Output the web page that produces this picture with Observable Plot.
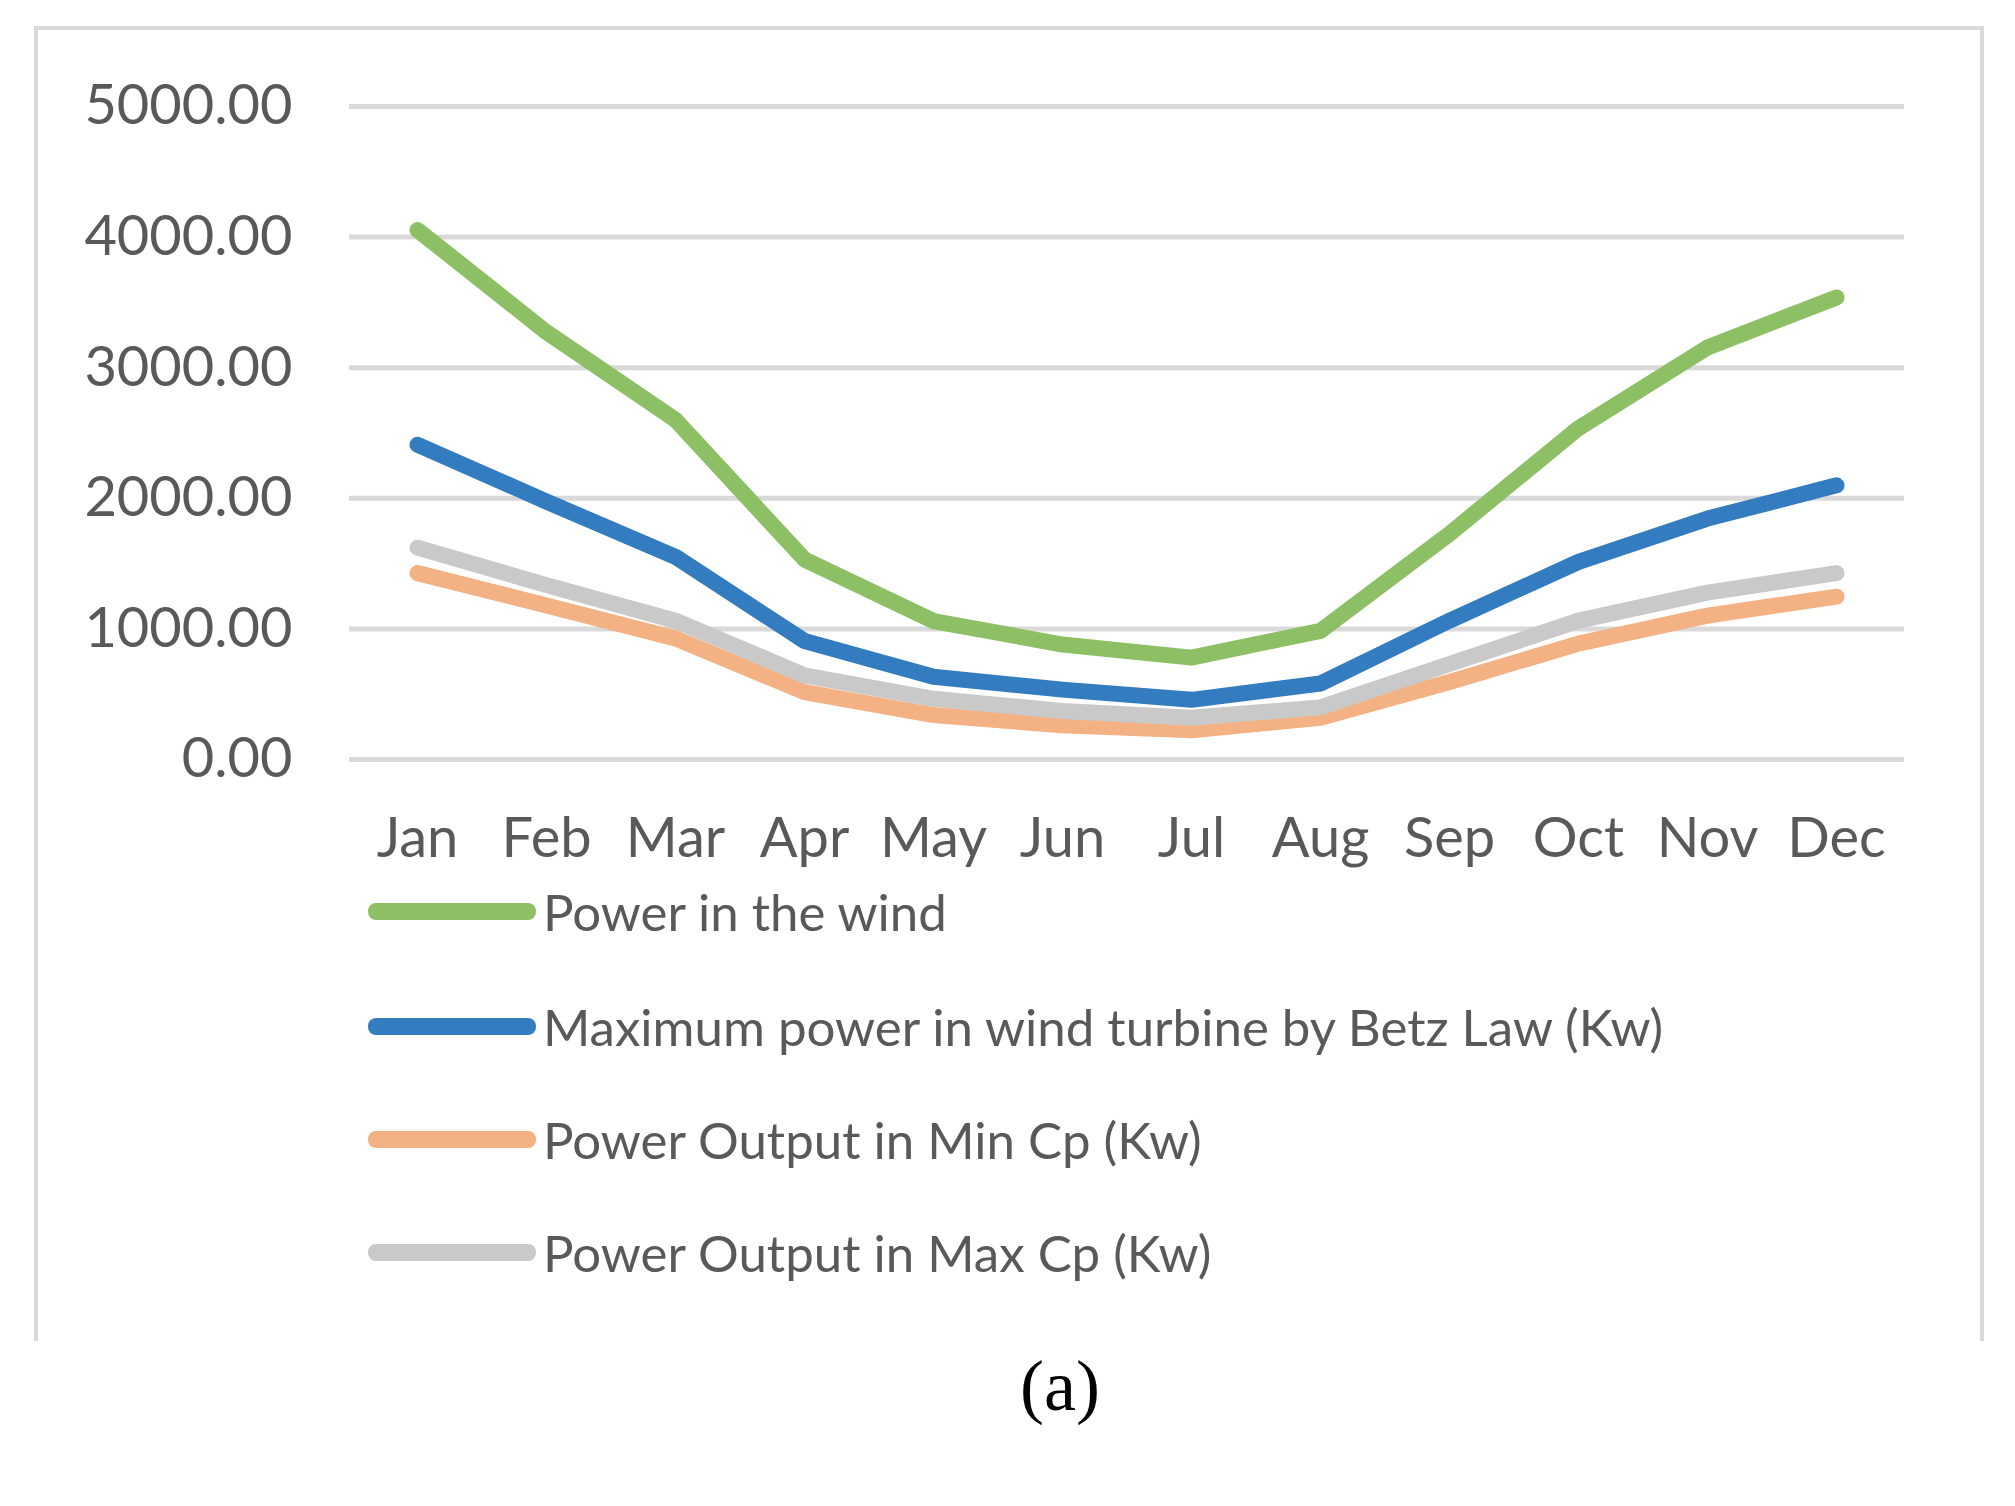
<!DOCTYPE html>
<html><head><meta charset="utf-8">
<script src="https://cdn.jsdelivr.net/npm/d3@7"></script>
<script src="https://cdn.jsdelivr.net/npm/@observablehq/plot@0.6"></script>
<style>
html,body{margin:0;padding:0;background:#fff;}
#page{position:relative;width:2015px;height:1506px;overflow:hidden;font-family:Lato,"Open Sans",sans-serif;}
#frame{position:absolute;left:34px;top:26px;width:1950px;height:1315px;border:4px solid #d9d9d9;border-bottom:none;box-sizing:border-box;}
#chart{position:absolute;left:0;top:0;}
#legend{position:absolute;left:368px;top:0;}
.row{position:absolute;left:0;display:flex;align-items:center;white-space:nowrap;}
.sw{width:168px;height:17px;border-radius:8px;margin-right:7px;}
.lab{font-size:51px;color:#595959;line-height:1;}
#cap{position:absolute;left:0;width:2120px;top:1345px;text-align:center;font-family:"Liberation Serif","DejaVu Serif",serif;font-size:72px;color:#000;}
</style></head>
<body><div id="page"><div id="frame"></div><div id="chart"></div><div id="legend"></div><div id="cap">(a)</div></div>
<script>
const months = ["Jan","Feb","Mar","Apr","May","Jun","Jul","Aug","Sep","Oct","Nov","Dec"];
const seriesNames = ["Power in the wind","Maximum power in wind turbine by Betz Law (Kw)","Power Output in Min Cp (Kw)","Power Output in Max Cp (Kw)"];
const seriesColors = ["#8dc065","#337cc0","#f4b183","#c9c9c9"];
const powerWind = [4055,3272,2600,1532,1060,880,780,985,1728,2537,3155,3538];
const betzMax   = [2410,1975,1552,907,633,535,457,582,1063,1513,1845,2099];
const minCp     = [1427,1180,927,516,340,262,223,320,594,887,1102,1247];
const maxCp     = [1622,1335,1063,645,465,371,320,399,731,1063,1278,1427];
const yTicks = [0,1000,2000,3000,4000,5000];

const allSeries = [powerWind, betzMax, minCp, maxCp];
const data = [];
allSeries.forEach((vals, si) => vals.forEach((v, i) => data.push({month: months[i], value: v, series: seriesNames[si]})));

const chart = Plot.plot({
  width: 2015, height: 900,
  marginLeft: 349, marginRight: 111, marginTop: 106, marginBottom: 141,
  style: {fontFamily: 'Lato, "Open Sans", sans-serif', background: "transparent", overflow: "visible"},
  x: {type: "point", domain: months, padding: 0.5},
  y: {domain: [0, 5000]},
  color: {domain: seriesNames, range: seriesColors},
  marks: [
    Plot.ruleY(yTicks, {stroke: "#d9d9d9", strokeWidth: 5}),
    Plot.axisY({ticks: yTicks, tickFormat: d => d.toFixed(2), tickSize: 0, tickPadding: 57, fontSize: 56, fill: "#595959", label: null}),
    Plot.axisX({tickSize: 0, tickPadding: 58, fontSize: 56, fill: "#595959", label: null}),
    Plot.line(data, {x: "month", y: "value", z: "series", stroke: "series", strokeWidth: 16, strokeLinecap: "round", strokeLinejoin: "round"})
  ]
});
document.getElementById("chart").appendChild(chart);

const rowCenters = [911, 1026, 1139, 1252];
const legend = d3.select("#legend");
seriesNames.forEach((name, i) => {
  const row = legend.append("div").attr("class", "row").style("top", (rowCenters[i] - 30) + "px").style("height", "60px");
  row.append("div").attr("class", "sw").style("background", seriesColors[i]);
  row.append("div").attr("class", "lab").text(name);
});
</script></body></html>
